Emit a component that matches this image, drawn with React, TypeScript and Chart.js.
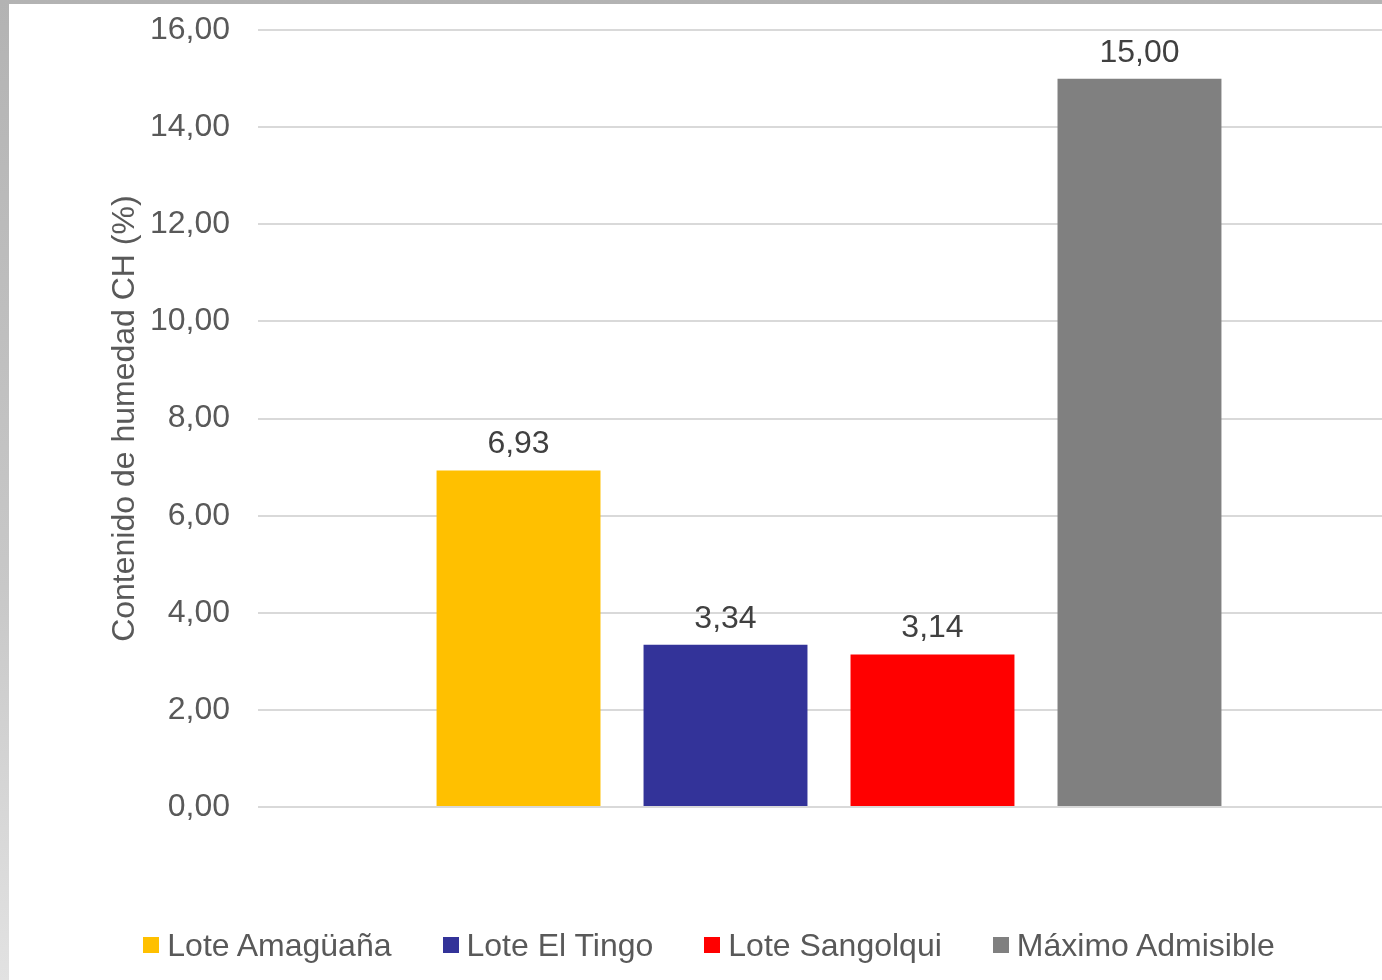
import React, { useEffect, useRef } from "react";
import { Chart, registerables } from "chart.js";

Chart.register(...registerables);

const categories = [""];
const seriesNames = ["Lote Amagüaña", "Lote El Tingo", "Lote Sangolqui", "Máximo Admisible"];
const seriesValues = [6.93, 3.34, 3.14, 15.0];
const seriesColors = ["#FFC000", "#333399", "#FF0000", "#808080"];
const yTitle = "Contenido de humedad CH (%)";
const yMin = 0;
const yMax = 16;
const yStep = 2;

const FONT = '"Liberation Sans", Arial, sans-serif';
const FS = 32;
const fmt = (v: number) => v.toFixed(2).replace(".", ",");

const labelPlugin = {
  id: "valueLabels",
  afterDatasetsDraw(chart: any) {
    const ctx = chart.ctx;
    ctx.save();
    ctx.font = `${FS}px ${FONT}`;
    ctx.fillStyle = "#404040";
    ctx.textAlign = "center";
    ctx.textBaseline = "middle";
    chart.data.datasets.forEach((ds: any, i: number) => {
      const meta = chart.getDatasetMeta(i);
      meta.data.forEach((el: any, j: number) => {
        ctx.fillText(fmt(ds.data[j]), el.x, el.y - 26);
      });
    });
    ctx.restore();
  },
};

export default function App() {
  const ref = useRef<HTMLCanvasElement | null>(null);
  useEffect(() => {
    if (!ref.current) return;
    const chart = new Chart(ref.current, {
      type: "bar",
      data: {
        labels: categories,
        datasets: seriesNames.map((name, i) => ({
          label: name,
          data: [seriesValues[i]],
          backgroundColor: seriesColors[i],
          borderWidth: 0,
          categoryPercentage: 0.725,
          barPercentage: 0.792,
        })),
      },
      options: {
        animation: false,
        responsive: false,
        maintainAspectRatio: false,
        layout: { padding: { top: 4, right: 9, bottom: 173, left: 0 } },
        plugins: {
          legend: { display: false },
          tooltip: { enabled: false },
        },
        scales: {
          x: { display: false },
          y: {
            min: yMin,
            max: yMax,
            afterFit: (scale: any) => {
              scale.width = 249;
            },
            border: { display: false },
            grid: { color: "#d9d9d9", lineWidth: 2, drawTicks: false },
            ticks: {
              stepSize: yStep,
              padding: 28,
              color: "#595959",
              font: { family: FONT, size: FS },
              callback: (v: any) => fmt(Number(v)),
            },
            title: {
              display: true,
              text: yTitle,
              color: "#595959",
              font: { family: FONT, size: FS },
              padding: { top: 97, bottom: 0 },
            },
          },
        },
      },
      plugins: [labelPlugin],
    });
    return () => chart.destroy();
  }, []);

  return (
    <div
      style={{
        position: "fixed",
        left: 0,
        top: 0,
        width: 1382,
        height: 980,
        background: "linear-gradient(to bottom, #b3b3b3, #c8c8c8 60%, #e2e2e2)",
        overflow: "hidden",
      }}
    >
      <div
        style={{
          position: "absolute",
          left: 9,
          top: 4,
          width: 1373,
          height: 976,
          background: "#ffffff",
          overflow: "hidden",
        }}
      >
        <canvas
          ref={ref}
          width={1400}
          height={997}
          style={{ position: "absolute", left: 0, top: -21, display: "block", width: 1400, height: 997 }}
        />
        <div
          style={{
            position: "absolute",
            left: 0,
            top: 921,
            width: 1400,
            height: 40,
            display: "flex",
            justifyContent: "center",
            alignItems: "center",
            fontFamily: FONT,
            fontSize: FS,
            lineHeight: 1,
            color: "#595959",
            whiteSpace: "nowrap",
          }}
        >
          {seriesNames.map((name, i) => (
            <div key={name} style={{ display: "flex", alignItems: "center", marginLeft: i === 0 ? 0 : 51 }}>
              <span style={{ display: "inline-block", width: 16, height: 16, background: seriesColors[i], marginRight: 8 }} />
              <span>{name}</span>
            </div>
          ))}
        </div>
      </div>
    </div>
  );
}
